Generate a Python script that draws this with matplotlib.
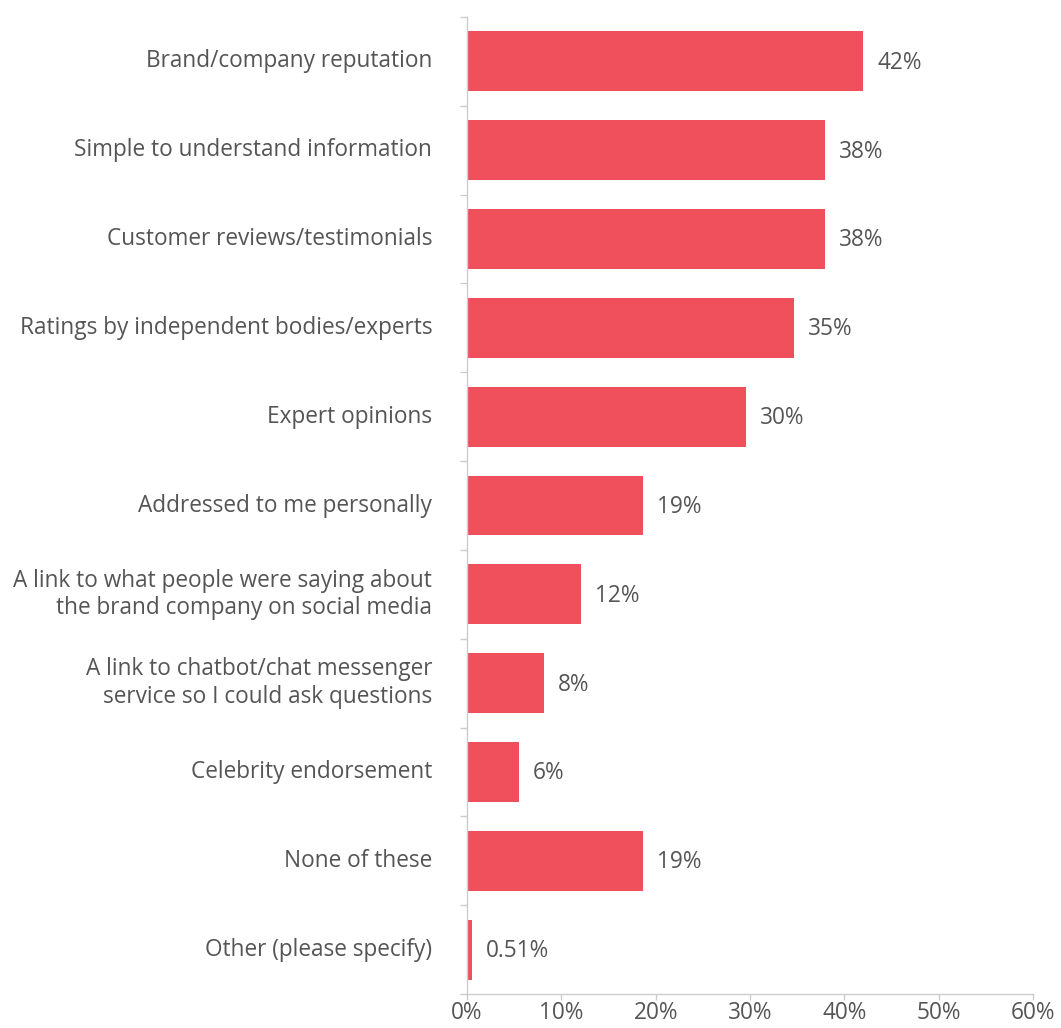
import matplotlib.pyplot as plt
import numpy as np

categories = [
    "Brand/company reputation",
    "Simple to understand information",
    "Customer reviews/testimonials",
    "Ratings by independent bodies/experts",
    "Expert opinions",
    "Addressed to me personally",
    "A link to what people were saying about\nthe brand company on social media",
    "A link to chatbot/chat messenger\nservice so I could ask questions",
    "Celebrity endorsement",
    "None of these",
    "Other (please specify)",
]
shares = [42.0, 38.0, 38.0, 34.7, 29.6, 18.7, 12.1, 8.2, 5.5, 18.7, 0.51]
xticks = [0, 10, 20, 30, 40, 50, 60]

bar_color = "#EF505C"
text_color = "#555555"
axis_color = "#CCCCCC"
fs = 16.3

plt.rcParams["font.family"] = ["Open Sans", "DejaVu Sans"]

fig = plt.figure(figsize=(10.61, 10.28), dpi=100)
ax = fig.add_axes([467 / 1061, 1 - 994 / 1028, (1033 - 467) / 1061, (994 - 17) / 1028])

y = np.arange(len(categories))
ax.barh(y, shares, height=0.675, color=bar_color)
ax.set_ylim(len(categories) - 0.5, -0.5)
ax.set_xlim(0, 60)

for yi, v in zip(y, shares):
    lbl = f"{v:.2f}%" if v < 1 else f"{v:.0f}%"
    ax.annotate(lbl, (v, yi), xytext=(10, -1), textcoords="offset points",
                va="center", ha="left", fontsize=fs, color=text_color)

# category names as text, ticks at the band boundaries
ax.set_yticks(np.arange(-0.5, len(categories), 1.0))
ax.set_yticklabels([])
for yi, name in zip(y, categories):
    ax.annotate(name, (0, yi), xytext=(-25, 0), textcoords="offset points",
                xycoords=("axes fraction", "data"), ha="right", va="center",
                fontsize=fs, color=text_color, linespacing=1.2)

ax.set_xticks(xticks)
ax.set_xticklabels([f"{t}%" for t in xticks])
ax.tick_params(axis="x", length=4, width=1, color=axis_color, labelsize=fs,
               labelcolor=text_color, pad=1)
ax.tick_params(axis="y", length=5, width=1, color=axis_color)

for side in ["top", "right"]:
    ax.spines[side].set_visible(False)
for side in ["left", "bottom"]:
    ax.spines[side].set_color(axis_color)
    ax.spines[side].set_linewidth(1)

fig.savefig("out.png", dpi=100)
